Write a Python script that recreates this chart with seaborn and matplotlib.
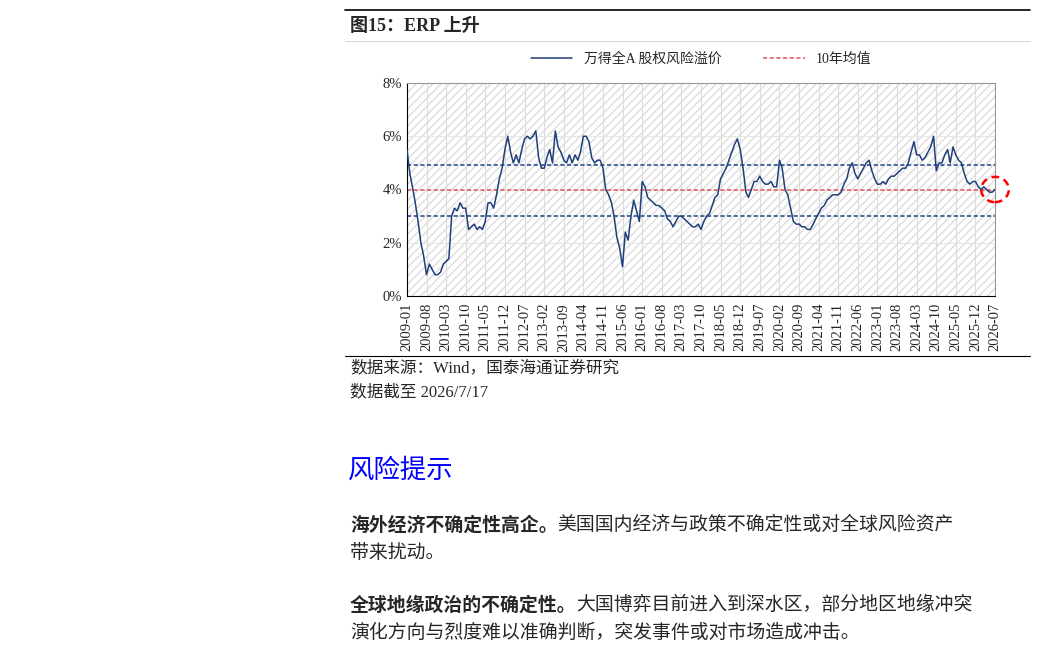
import matplotlib
matplotlib.use("Agg")
import matplotlib.pyplot as plt
import matplotlib.dates as mdates
from matplotlib.patches import Rectangle, Ellipse
import numpy as np
import pandas as pd
import seaborn as sns

# 月度万得全A股权风险溢价 (%), 2009-01 至 2026-07
erp = [
    5.5, 4.6, 4.1, 3.5, 2.8, 2.0, 1.5, 0.8, 1.2, 1.0, 0.8, 0.8,
    0.9, 1.2, 1.3, 1.4, 3.0, 3.3, 3.2, 3.5, 3.3, 3.3, 2.5, 2.6,
    2.7, 2.5, 2.6, 2.5, 2.8, 3.5, 3.5, 3.3, 3.8, 4.4, 4.8, 5.5,
    6.0, 5.4, 5.0, 5.3, 5.0, 5.5, 5.9, 6.0, 5.9, 6.0, 6.2, 5.2,
    4.8, 4.8, 5.2, 5.5, 5.0, 6.2, 5.6, 5.4, 5.1, 5.0, 5.3, 5.0,
    5.3, 5.1, 5.4, 6.0, 6.0, 5.8, 5.2, 5.0, 5.1, 5.1, 4.8, 4.0,
    3.8, 3.5, 3.0, 2.2, 1.8, 1.1, 2.4, 2.1, 3.0, 3.6, 3.2, 2.8,
    4.3, 4.1, 3.7, 3.6, 3.5, 3.4, 3.4, 3.3, 3.2, 2.9, 2.8, 2.6,
    2.8, 3.0, 3.0, 2.9, 2.8, 2.7, 2.6, 2.6, 2.7, 2.5, 2.8, 3.0,
    3.1, 3.4, 3.7, 3.8, 4.4, 4.6, 4.8, 5.1, 5.4, 5.7, 5.9, 5.5,
    4.8, 3.9, 3.7, 4.0, 4.3, 4.3, 4.5, 4.3, 4.2, 4.2, 4.3, 4.1,
    4.1, 5.1, 4.8, 4.0, 3.8, 3.3, 2.8, 2.7, 2.7, 2.6, 2.6, 2.5,
    2.5, 2.7, 2.9, 3.1, 3.3, 3.4, 3.6, 3.7, 3.8, 3.8, 3.8, 3.9,
    4.2, 4.4, 4.8, 5.0, 4.6, 4.4, 4.6, 4.8, 5.0, 5.1, 4.7, 4.4,
    4.2, 4.2, 4.3, 4.2, 4.4, 4.5, 4.5, 4.6, 4.7, 4.8, 4.8, 5.0,
    5.4, 5.8, 5.3, 5.3, 5.1, 5.2, 5.4, 5.6, 6.0, 4.7, 5.0, 5.0,
    5.3, 5.5, 5.0, 5.6, 5.3, 5.1, 5.0, 4.6, 4.3, 4.2, 4.3, 4.3,
    4.1, 4.0, 4.1, 4.0, 3.9, 3.9, 4.0,
]
mean_10y = 3.97
upper_band = 4.92
lower_band = 3.0
dates = pd.date_range("2009-01-01", periods=len(erp), freq="MS")
df = pd.DataFrame({"date": dates, "erp": erp})

sns.set_style("white")
plt.rcParams["font.family"] = ["Liberation Serif", "Noto Sans CJK SC"]

W, H = 1037, 648
fig = plt.figure(figsize=(W / 100, H / 100), dpi=100)


def fy(py):
    return 1 - py / H


def fx(px):
    return px / W


ax = fig.add_axes([fx(407), fy(296), fx(995 - 407), (296 - 83) / H])
ax.add_patch(Rectangle((0, 0), 1, 1, transform=ax.transAxes, facecolor="white",
                       edgecolor="#dddddd", hatch="////", lw=0, zorder=0))
ax.set_ylim(0, 8)
ax.set_xlim(dates[0], dates[-1])
ticks = dates[::7]
ax.set_xticks(ticks)
ax.xaxis.set_major_formatter(mdates.DateFormatter("%Y-%m"))
ax.tick_params(axis="x", rotation=90, labelsize=10.5, length=3, pad=2)
ax.tick_params(axis="y", labelsize=10.5, length=0)
ax.set_yticks([0, 2, 4, 6, 8])
ax.set_yticklabels([f"{v}%" for v in [0, 2, 4, 6, 8]])
for t in ticks:
    ax.axvline(t, color="#dcdcdc", lw=0.8, zorder=1)
for v in [2, 4, 6]:
    ax.axhline(v, color="#e6e6e6", lw=0.8, zorder=1)

ax.axhline(upper_band, color="#2f4f8f", ls=(0, (2.5, 1.5)), lw=1.2, zorder=2)
ax.axhline(lower_band, color="#2f4f8f", ls=(0, (2.5, 1.5)), lw=1.2, zorder=2)
ax.axhline(mean_10y, color="#e06060", ls=(0, (2.5, 1.5)), lw=1.2, zorder=2,
           label="10年均值")
sns.lineplot(data=df, x="date", y="erp", ax=ax, color="#1f3f7a", lw=1.1,
             zorder=3, label="万得全A 股权风险溢价")
ax.set_xlabel("")
ax.set_ylabel("")
for s in ["top", "right"]:
    ax.spines[s].set_color("#999999")
for s in ["left", "bottom"]:
    ax.spines[s].set_color("black")
ax.add_patch(Ellipse((dates[-1], 4.0), 300, 0.95, fill=False, ec="red",
                     ls=(0, (3, 2)), lw=1.8, clip_on=False, zorder=5))

h, l = ax.get_legend_handles_labels()
ax.legend(h[::-1], l[::-1], loc="upper center", bbox_to_anchor=(0.5, 1.2),
          ncol=2, frameon=False, fontsize=10, handlelength=3, columnspacing=3)

# 页面文字与分隔线
for py, col, lw in [(10, "black", 1.2), (41, "#cccccc", 0.6), (356, "black", 0.8)]:
    fig.add_artist(plt.Line2D([fx(345), fx(1030)], [fy(py), fy(py)],
                              color=col, lw=lw))
fig.text(fx(350), fy(26), "图15：ERP 上升", fontsize=13, fontweight="bold", va="center")
fig.text(fx(350), fy(368), "数据来源：Wind，国泰海通证券研究", fontsize=12, va="center")
fig.text(fx(350), fy(392), "数据截至 2026/7/17", fontsize=12, va="center")
fig.text(fx(348), fy(470), "风险提示", fontsize=19, color="#0000ff", va="center")

fig.canvas.draw()
r = fig.canvas.get_renderer()
BODY = 13.6


def mixed(py, bold, normal):
    t = fig.text(fx(350), fy(py), bold, fontsize=BODY, fontweight="bold", va="center")
    bb = t.get_window_extent(r)
    fig.text(bb.x1 / W, fy(py), normal, fontsize=BODY, va="center")


mixed(525, "海外经济不确定性高企。", "美国国内经济与政策不确定性或对全球风险资产")
fig.text(fx(350), fy(553), "带来扰动。", fontsize=BODY, va="center")
mixed(605, "全球地缘政治的不确定性。", "大国博弈目前进入到深水区，部分地区地缘冲突")
fig.text(fx(350), fy(633), "演化方向与烈度难以准确判断，突发事件或对市场造成冲击。",
         fontsize=BODY, va="center")

fig.savefig("out.png", dpi=100)
